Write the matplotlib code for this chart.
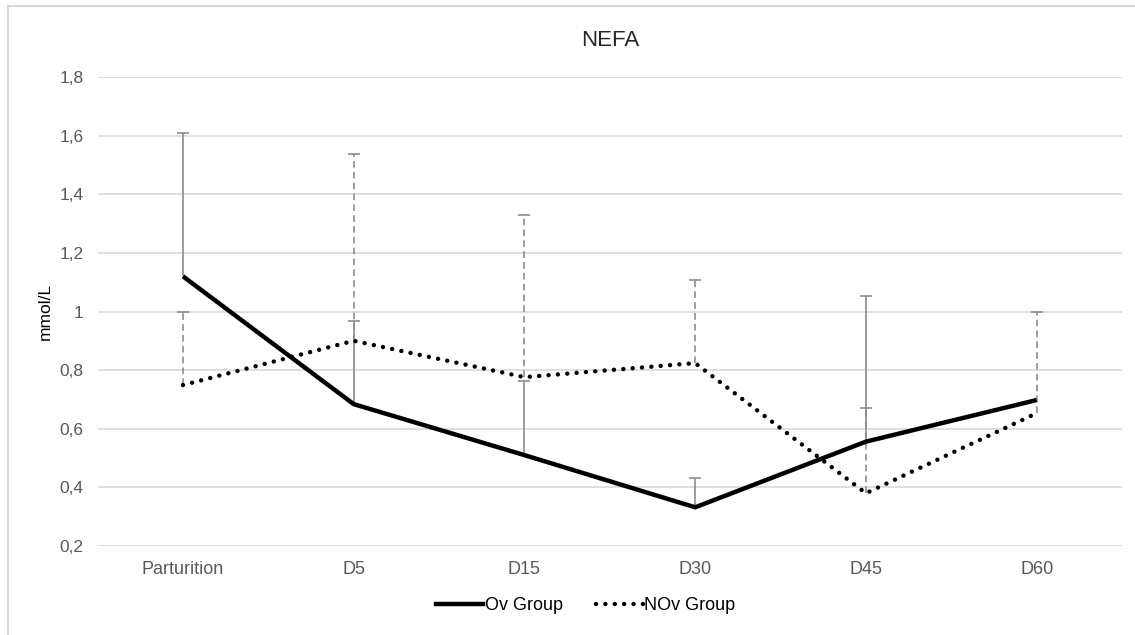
import matplotlib
matplotlib.use("Agg")
import matplotlib.pyplot as plt
from matplotlib.lines import Line2D
import numpy as np

categories = ["Parturition", "D5", "D15", "D30", "D45", "D60"]
ov_mean = [1.12, 0.684, 0.51, 0.332, 0.556, 0.698]
ov_upper = [1.61, 0.967, 0.763, 0.433, 1.053, np.nan]
nov_mean = [0.749, 0.90, 0.776, 0.824, 0.38, 0.653]
nov_upper = [1.0, 1.537, 1.329, 1.107, 0.67, 1.0]

plt.rcParams['font.family'] = ['Liberation Sans', 'DejaVu Sans']

fig = plt.figure(figsize=(11.35, 6.35), dpi=100)
ax = fig.add_axes([97.6 / 1135, 1 - 546 / 635, (1122 - 97.6) / 1135, (546 - 77) / 635])

x = np.arange(len(categories))
ov_err = np.array(ov_upper) - np.array(ov_mean)
nov_err = np.array(nov_upper) - np.array(nov_mean)

# error bars (upper only)
e1 = ax.errorbar(x, ov_mean, yerr=[np.zeros(len(x)), ov_err], fmt='none',
                 ecolor='#8c8c8c', elinewidth=1.2, capsize=4, capthick=1.2, zorder=3)
e2 = ax.errorbar(x, nov_mean, yerr=[np.zeros(len(x)), nov_err], fmt='none',
                 ecolor='#8c8c8c', elinewidth=1.2, capsize=4, capthick=1.2, zorder=3)
e2[2][0].set_linestyle((0, (4, 2.5)))
# hide the lower caps
e1[1][0].set_visible(False)
e2[1][0].set_visible(False)

ax.plot(x, ov_mean, color='black', lw=3.2, solid_capstyle='butt', zorder=4)
ax.plot(x, nov_mean, color='black', lw=3.2, linestyle=(0, (0.01, 2.1)),
        dash_capstyle='round', zorder=4)

ax.set_xlim(-0.5, len(x) - 0.5)
ax.set_ylim(0.2, 1.8)
yt = np.arange(0.2, 1.81, 0.2)
ax.set_yticks(yt)
ax.set_yticklabels([f"{v:g}".replace('.', ',') for v in np.round(yt, 1)])
ax.set_xticks(x)
ax.set_xticklabels(categories)
ax.tick_params(length=0, labelsize=12.5, colors='#595959')
ax.tick_params(axis='x', labelsize=13, pad=11)
ax.tick_params(axis='y', pad=10)
ax.grid(axis='y', color='#d9d9d9', lw=1.2)
ax.set_axisbelow(True)
for s in ax.spines.values():
    s.set_visible(False)

ax.set_ylabel("mmol/L", fontsize=12.5, color='black', labelpad=5)
fig.text(610 / 1135, 1 - 41 / 635, "NEFA", ha='center', va='center', fontsize=16, color='#262626')

handles = [Line2D([0], [0], color='black', lw=3.2),
           Line2D([0], [0], color='black', lw=3.2, linestyle=(0, (0.01, 2.1)), dash_capstyle='round')]
fig.legend(handles, ["Ov Group", "NOv Group"], loc='center', bbox_to_anchor=(586 / 1135, 1 - 606 / 635),
           ncol=2, frameon=False, fontsize=13, handlelength=2.6, handletextpad=0.1, columnspacing=1.8)

# outer chart border (top and left visible)
fig.add_artist(Line2D([8 / 1135, 8 / 1135], [0, 1 - 6 / 635], color='#d9d9d9', lw=1.5))
fig.add_artist(Line2D([8 / 1135, 1], [1 - 6 / 635, 1 - 6 / 635], color='#d9d9d9', lw=1.5))

fig.savefig("out.png", dpi=100)
